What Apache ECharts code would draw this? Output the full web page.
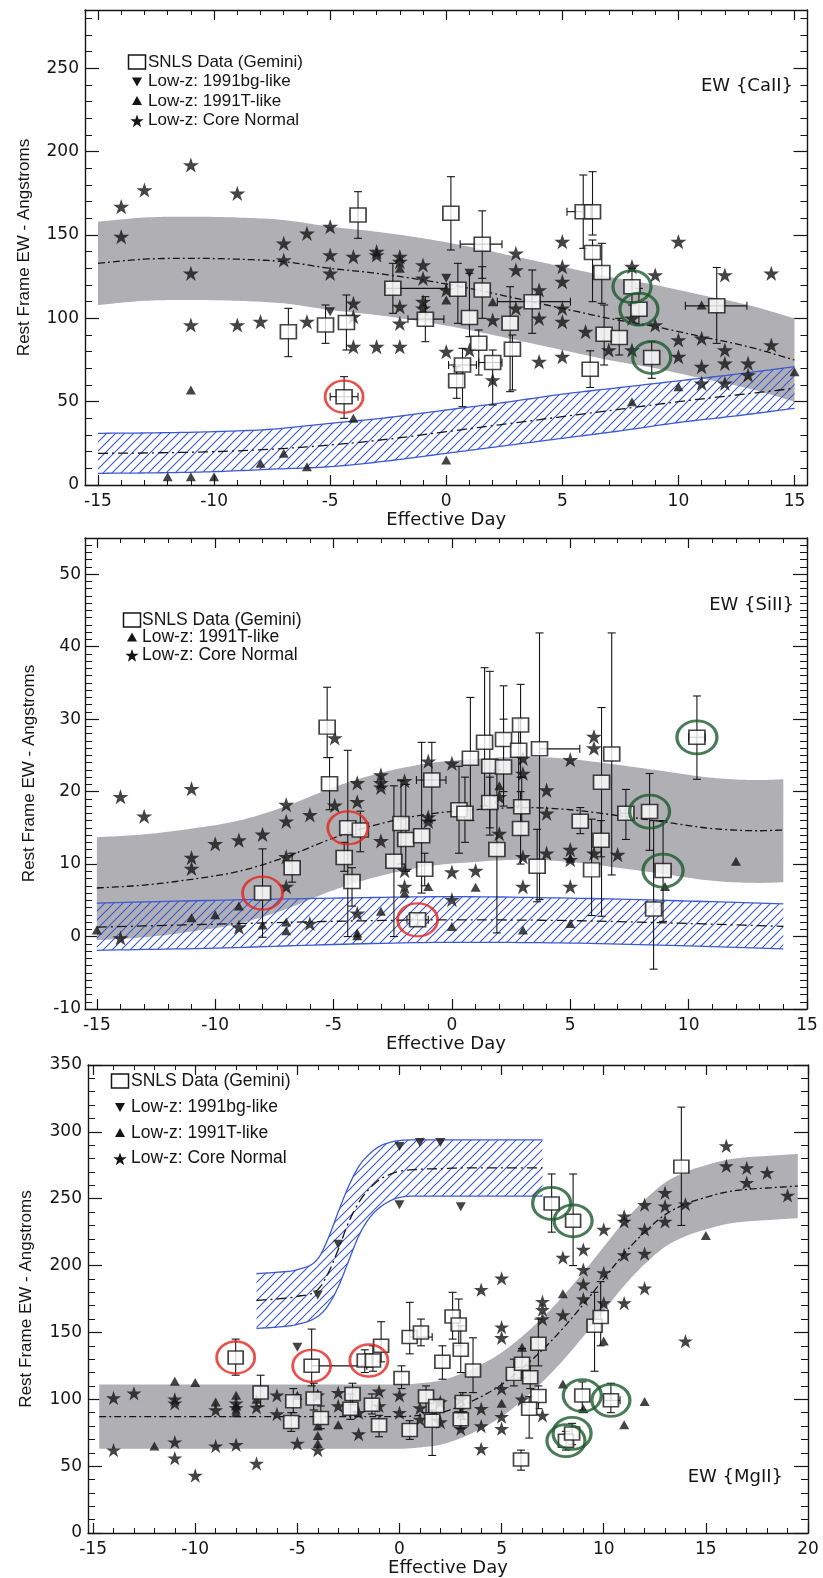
<!DOCTYPE html>
<html>
<head>
<meta charset="utf-8">
<title>Rest Frame EW vs Effective Day</title>
<script src="https://cdn.jsdelivr.net/npm/echarts@6/dist/echarts.min.js"></script>
<style>
html,body{margin:0;padding:0;background:#fff;}
#chart{width:823px;height:1578px;}
</style>
</head>
<body>
<div id="chart"></div>
<script>
// ================= Ca II panel =================
const caXTicks = [-15, -10, -5, 0, 5, 10, 15];
const caYTicks = [0, 50, 100, 150, 200, 250];
// normal-population model band (grey)
const caBandX   = [-15, -13, -11, -9, -7, -5, -3, -1, 1, 3, 5, 7, 9, 11, 13, 15];
const caBandMid = [133, 135.5, 136, 135.5, 134, 130, 127, 123, 118, 112, 106, 100, 95, 89, 83, 75];
const caBandHi  = [158, 160.5, 161, 160.5, 159, 155, 152, 148, 143, 137, 131, 125, 120, 114, 108, 100];
const caBandLo  = [108, 110.5, 111, 110.5, 109, 105, 102, 98, 93, 87, 81, 75, 70, 64, 58, 50];
// 1991T-like model band (hatched)
const caHatchX   = [-15, -12.5, -10, -7.5, -5, -2.5, 0, 2.5, 5, 7.5, 10, 12.5, 15];
const caHatchMid = [19, 19.3, 20, 21.5, 24, 27.5, 32, 36.5, 41, 45.5, 50, 54, 58];
const caHatchHi  = [31, 31.3, 32, 33.5, 37, 40.5, 45, 49.5, 54.5, 58.5, 62.5, 66.5, 71];
const caHatchLo  = [7, 7.3, 8, 9.5, 11, 14.5, 19, 23.5, 28, 32.5, 37.5, 41.5, 46];
const caStars = [[-14,167],[-14,149],[-13,177],[-11,192],[-11,127],[-11,96],[-9,175],[-9,96],[-8,98],[-7,145],[-7,135],[-6,151],[-6,98],[-5,155],[-5,138],[-5,127],[-4,137],[-4,109],[-4,101],[-4,83],[-3,140],[-3,138],[-3,83],[-2,137],[-2,134],[-2,107],[-2,97],[-2,83],[-1,132],[-1,124],[-1,110],[-1,106],[0,80],[0,117],[1,81],[2,99],[2,63],[3,139],[3,129],[3,106],[4,117],[4,100],[4,74],[5,146],[5,131],[5,122],[5,106],[5,98],[5,77],[6,92],[7,81],[8,131],[8,100],[8,81],[9,126],[9,96],[10,146],[10,87],[10,77],[11,88],[11,71],[11,61],[12,126],[12,81],[12,73],[12,61],[13,73],[13,66],[14,127],[14,84]];
const caTriUp = [[-12,5],[-11,5],[-10,5],[-11,57],[-8,13],[-7,19],[-6,11],[-4,40],[0,15],[8,50],[10,59],[15,68],[11,108],[0,111],[2,110],[-2,130]];
const caTriDown = [[-5,104],[0,124],[1,127]];
// [day, EW, EW low, EW high, day low, day high]
const caSquares = [
  [-6.8, 92, 77, 106, null, null], [-5.2, 96, 85, 108, null, null], [-4.3, 97.5, 81, 114, null, null],
  [-3.8, 162, 148, 176, null, null], [-4.4, 53, 40, 65, -5.0, -3.8], [-2.3, 118, 103, 133, -2.6, 0],
  [-0.9, 99.5, 86, 113, -1.65, -0.1], [0.2, 163, 141, 185, null, null], [0.5, 117.5, 97, 133, null, null],
  [1.0, 100.5, 89, 127, null, null], [0.45, 62.5, 52, 71, null, null], [0.7, 72, 47, 82, 0.1, 1.3],
  [1.55, 144.5, 124, 164.5, 0.6, 2.4], [1.55, 117, 100, 131, null, null], [1.4, 85, 66, 93, null, null],
  [2.0, 73.5, 48, 81, 1.4, 2.4], [2.75, 97, 56, 119, null, null], [2.85, 81.5, 57, 90, null, null],
  [3.7, 110, 91, 129, 2.2, 5.35], [5.9, 164, 142, 186, 5.2, null], [6.3, 164, 150, 188, null, null],
  [6.3, 139.5, 110, 147, null, null], [6.7, 127.5, 109, 145, null, null], [6.2, 69.5, 58.5, 80.5, null, null],
  [6.8, 90.5, 72, 108, null, null], [7.45, 88.5, 78, 100, null, null], [8.0, 119, 108, 130, null, null],
  [8.3, 105.5, 96, 118, null, null], [8.85, 76.5, 64, 86, null, null], [11.65, 107.5, 85, 130.5, 10.3, 12.95]
];
const caRed = [[-4.4, 53]];
const caGreen = [[8.0, 119], [8.3, 105.5], [8.85, 76.5]];

// ================= Si II panel =================
const siXTicks = [-15, -10, -5, 0, 5, 10, 15];
const siYTicks = [-10, 0, 10, 20, 30, 40, 50];
const siBandX   = [-15, -13, -11, -9, -7, -5, -3, -1, 1, 3, 5, 7, 9, 11, 13, 14];
const siBandMid = [6.7, 7.1, 7.9, 9.0, 11.0, 13.6, 15.6, 16.9, 17.5, 17.8, 17.5, 16.7, 15.8, 14.9, 14.6, 14.7];
const siBandHi  = [13.7, 14.1, 14.9, 16.0, 18.0, 20.6, 22.6, 23.9, 24.5, 24.8, 24.5, 23.7, 22.8, 21.9, 21.6, 21.7];
const siBandLo  = [-0.5, -0.1, 0.7, 1.8, 3.8, 6.4, 8.4, 9.7, 10.3, 10.6, 10.3, 9.5, 8.6, 7.7, 7.4, 7.5];
const siHatchX   = [-15, -10, -5, 0, 5, 10, 14];
const siHatchMid = [1.3, 1.7, 2.1, 2.3, 2.2, 1.8, 1.4];
const siHatchHi  = [4.6, 5.0, 5.3, 5.5, 5.3, 4.9, 4.5];
const siHatchLo  = [-1.9, -1.6, -1.1, -0.8, -0.9, -1.3, -1.7];
const siStars = [[-14,19.3],[-14,-0.2],[-13,16.6],[-11,20.4],[-11,10.9],[-11,9.4],[-10,12.8],[-9,13.3],[-9,1.3],[-8,14.1],[-7,18.2],[-7,15.9],[-7,11.0],[-7,6.9],[-6,16.8],[-6,1.8],[-4.95,27.4],[-4.95,18.1],[-4,21.2],[-4,18.6],[-4,3.2],[-3,22.3],[-3,21.2],[-3,20.6],[-3,13.2],[-2,21.5],[-2,9.1],[-2,6.9],[-1,24.2],[-1,16.5],[-1,15.9],[0,23.9],[0,8.9],[0,5.1],[1,9.1],[2,14.2],[2,19.3],[3,22.5],[3,24.6],[3,11.0],[3,6.9],[4,20.2],[4,17.0],[4,11.5],[5,24.4],[5,12.0],[5,10.6],[5,6.9],[6,27.6],[6,26.0],[6,11.5],[7,11.3]];
const siTriUp = [[-15,0.9],[-11,2.6],[-10,3.0],[-9,4.2],[-8,1.6],[-7,2.0],[-7,0.8],[-4,0.1],[-4,0.5],[-3,3.5],[-2,6.0],[-1,6.9],[0,1.4],[1,6.8],[2,20.8],[3,0.9],[5,1.8],[5,10.8],[9,6.9],[12,10.4]];
const siSquares = [
  [-8.0, 6.0, -0.1, 12.1, null, null], [-6.75, 9.5, 7.5, 11.5, null, null], [-5.27, 28.9, 24.7, 34.4, null, null],
  [-5.17, 21.1, 17.5, 24.7, null, null], [-4.4, 15.0, 0, 25.7, null, null], [-3.87, 14.7, 11.7, 17.3, null, null],
  [-4.55, 10.9, 9, 13, null, null], [-4.22, 7.6, 4.2, 9.5, null, null], [-2.45, 10.4, 0, 20.8, null, null],
  [-2.15, 15.6, 10, 21.5, null, null], [-1.95, 13.4, 9, 21, null, null], [-1.28, 13.9, 6, 26.8, null, null],
  [-1.15, 9.3, 7, 11.5, null, null], [-0.85, 21.6, 16, 26.8, -1.5, -0.25], [-1.45, 2.3, 1.5, 3.1, -1.9, -1.0],
  [0.3, 17.5, 11.5, 23.5, null, null], [0.55, 17.0, 13, 22, null, null], [0.78, 24.6, 16, 33, null, null],
  [1.38, 26.8, 18, 37.1, null, null], [1.6, 23.5, 15, 36.6, null, null], [1.6, 18.5, 14, 22, null, null],
  [2.18, 27.2, 20, 34.6, null, null], [2.18, 23.4, 18, 30, null, null], [1.9, 12.0, 0.5, 23, null, null],
  [2.9, 29.2, 22, 34.8, null, null], [2.82, 25.7, 18, 30, null, null], [2.95, 17.9, 14, 22, null, null],
  [2.9, 14.9, 10, 20, null, null], [3.7, 25.9, 5.1, 41.9, null, 5.4], [3.6, 9.7, 4.8, 14.8, null, null],
  [5.42, 15.9, 14.2, 17.8, null, null], [5.9, 9.2, 2.9, 16.2, null, null], [6.32, 21.3, 2.8, 31.6, null, null],
  [6.3, 13.3, 11, 16, null, null], [6.75, 25.2, 8.5, 41.9, null, null], [7.35, 17.0, 13.4, 20.3, 7.1, 7.6],
  [8.35, 17.25, 11.9, 22.5, null, null], [8.92, 9.1, 2.1, 16, null, null], [8.52, 3.8, -4.5, 16, null, null],
  [10.35, 27.5, 21.7, 33.2, 10.0, 10.7]
];
const siRed = [[-8.0, 6.0], [-4.4, 15.0], [-1.45, 2.3]];
const siGreen = [[8.35, 17.25], [8.92, 9.1], [10.35, 27.5]];

// ================= Mg II panel =================
const mgXTicks = [-15, -10, -5, 0, 5, 10, 15, 20];
const mgYTicks = [0, 50, 100, 150, 200, 250, 300, 350];
const mgBandX   = [-14.7, -12, -9, -6, -3, 0, 1, 2, 3, 4, 5, 6, 7, 8, 9, 10, 11, 12, 13, 14, 15, 16, 17, 18, 19, 19.5];
const mgBandMid = [87, 87, 87, 87, 87, 87, 88, 90, 95, 102, 111, 123, 137, 153, 171, 190, 209, 225, 238, 246, 251, 255, 257, 258, 259, 259.5];
const mgBandHi  = [111, 111, 111, 111, 111, 111, 112, 114, 119, 126, 135, 147, 161, 177, 195, 214, 233, 249, 262, 270, 275, 279, 281, 282, 283, 283.5];
const mgBandLo  = [63, 63, 63, 63, 63, 63, 64, 66, 71, 78, 87, 99, 113, 129, 147, 166, 185, 201, 214, 222, 227, 231, 233, 234, 235, 235.5];
const mgHatchX   = [-7, -6, -5, -4, -3.5, -3, -2.5, -2, -1.5, -1, -0.5, 0, 1, 2, 3, 4, 5, 6, 7];
const mgHatchMid = [174, 175, 177, 182, 194, 212, 232, 247, 257, 264, 268, 270.5, 272, 272.5, 273, 273, 273, 273, 273];
const mgHatchHi  = [194, 195, 197, 205, 220, 240, 259, 274, 283, 289, 292, 293.5, 294, 294, 294, 294, 294, 294, 294];
const mgHatchLo  = [153, 154, 156, 162, 170, 184, 203, 222, 235, 243, 248, 251, 252, 252, 252, 252, 252, 252, 252];
const mgStars = [[-14,101],[-14,62],[-13,104.5],[-11,100],[-11,97],[-11,68],[-11,56],[-10,43],[-9,92],[-9,65],[-8,93.5],[-8,97],[-8,66],[-7,94],[-7,52],[-6,103],[-6,89],[-5,67],[-4,62],[-4,103],[-3,105],[-3,95],[-2,74],[-2,90],[-1,106],[-1,95],[0,90],[0,103],[1,93.5],[1,85],[2,83],[2,98],[3,90],[3,78],[3,100],[4,182],[4,93],[4,80],[4,63],[5,190.5],[5,154],[5,146],[5,108],[5,87],[5,78],[6,100],[7,173],[7,167],[7,160],[7,88],[8,206],[8,163],[9,212],[9,197],[9,186],[9,175],[10,227],[10,194.5],[10,172],[11,237],[11,233],[11,208],[11,172],[12,245.5],[12,227],[12,209],[12,183],[13,254.5],[13,244.5],[13,233],[14,246],[14,143.5],[16,289.5],[16,274.5],[17,273],[17,262],[18,269.5],[19,252.5]];
const mgTriUp = [[-12,65],[-11,113.5],[-10,112.5],[-9,98],[-8,103],[-8,95],[-8,90],[-7,100],[-5,103],[-4,80],[-4,73],[-4,67],[-3,81],[5,97],[6,139],[8,179],[8,111.5],[9,93],[10,143.5],[11,81],[12,98.3],[15,222.5]];
const mgTriDown = [[-5,139],[-4,178],[-3,216],[0,289],[1,292],[2,292],[0,245.5],[3,244]];
const mgSquares = [
  [-8.02, 131.3, 118, 145, null, null], [-6.8, 105, 95, 118, null, null], [-5.2, 98.5, 90, 108, null, null],
  [-5.3, 83, 76, 90, null, null], [-4.3, 125, 110, 152.5, null, -1.6], [-4.2, 100.5, 92, 112, null, null],
  [-3.85, 86, 78, 95, null, null], [-2.4, 93, 85, 104, null, null], [-2.3, 104, 96, 112, null, null],
  [-1.7, 129, 120, 137, null, null], [-1.3, 129, 121, 140, null, null], [-1.35, 96, 89, 104, null, null],
  [-1.0, 80.5, 72, 88, null, null], [-0.9, 140, 128, 158, null, null], [0.1, 116, 108, 125, null, null],
  [0.5, 146.5, 134, 172.5, null, 1.6], [1.05, 150, 140, 160, null, null], [0.5, 77, 70, 84, null, null],
  [1.3, 102, 90, 110, null, null], [1.6, 84, 58, 92, null, null], [1.8, 95, 85, 100, null, null],
  [2.1, 128, 115, 140, null, null], [2.6, 162, 145, 180, null, null], [2.9, 156, 140, 175, null, null],
  [3.0, 137, 120, 155, null, null], [3.6, 121.5, 105, 146, null, null], [3.1, 98, 85, 105, null, null],
  [3.0, 85, 78, 93, null, null], [5.6, 119, 110, 130, null, null], [6.0, 126.5, 116, 138, null, null],
  [6.4, 116.5, 108, 125, null, null], [5.95, 55, 47, 62, null, null], [6.8, 141.5, 125, 160, null, null],
  [6.8, 102.5, 93, 110, null, null], [6.35, 93, 71, 102, null, null], [7.45, 246.5, 225, 268.5, null, null],
  [8.5, 233.5, 200, 268.5, null, null], [8.15, 69, 62, 76, null, null], [8.45, 74.5, 66, 82, null, null],
  [8.95, 102.8, 92, 113, null, null], [10.35, 99.2, 90, 112, 10.0, 10.8], [9.55, 155, 121, 180, null, null],
  [9.85, 161.5, 140, 188, null, null], [13.8, 274, 230, 318.5, null, null]
];
const mgRed = [[-8.02, 131.3], [-4.3, 125], [-1.5, 129]];
const mgGreen = [[7.45, 246.5], [8.5, 233.5], [8.15, 69], [8.45, 74.5], [8.95, 102.8], [10.35, 99.2]];

// ================= styling =================
const INK = '#151515';
const GREY = '#b0b0b4';
const BLUE = '#3b59d3';
const RED = '#e3231e';
const GREEN = '#1d5a2d';
const NUM_FONT = 'DejaVu Sans';
const TXT_FONT = 'Liberation Sans';
const STAR = 'path://M0,-10L2.245,-3.09L9.511,-3.09L3.633,1.18L5.878,8.09L0,3.82L-5.878,8.09L-3.633,1.18L-9.511,-3.09L-2.245,-3.09Z';

function hatchCanvas() {
  const c = document.createElement('canvas');
  c.width = 9; c.height = 9;
  const g = c.getContext('2d');
  g.strokeStyle = BLUE; g.lineWidth = 1.1;
  g.beginPath();
  g.moveTo(0, 9); g.lineTo(9, 0);
  g.moveTo(-1, 1); g.lineTo(1, -1);
  g.moveTo(8, 10); g.lineTo(10, 8);
  g.stroke();
  return c;
}
const HATCH = { image: hatchCanvas(), repeat: 'repeat' };

function minorTicks(min, max, step) {
  const out = [];
  for (let v = Math.ceil(min / step) * step; v <= max + 1e-9; v += step) out.push(+v.toFixed(6));
  return out;
}

// monotone cubic (Fritsch–Carlson) sampling, used only to draw smooth band edges
function smoothEdge(xs, ys, per) {
  const n = xs.length, d = [], m = new Array(n);
  for (let i = 0; i < n - 1; i++) d.push((ys[i + 1] - ys[i]) / (xs[i + 1] - xs[i]));
  m[0] = d[0]; m[n - 1] = d[n - 2];
  for (let i = 1; i < n - 1; i++) m[i] = d[i - 1] * d[i] <= 0 ? 0 : (d[i - 1] + d[i]) / 2;
  for (let i = 0; i < n - 1; i++) {
    if (d[i] === 0) { m[i] = 0; m[i + 1] = 0; continue; }
    const a = m[i] / d[i], b = m[i + 1] / d[i], s = a * a + b * b;
    if (s > 9) { const t = 3 / Math.sqrt(s); m[i] = t * a * d[i]; m[i + 1] = t * b * d[i]; }
  }
  const out = [];
  for (let i = 0; i < n - 1; i++) {
    const h = xs[i + 1] - xs[i];
    for (let k = 0; k < per; k++) {
      const t = k / per, t2 = t * t, t3 = t2 * t;
      const y = (2 * t3 - 3 * t2 + 1) * ys[i] + (t3 - 2 * t2 + t) * h * m[i] +
                (-2 * t3 + 3 * t2) * ys[i + 1] + (t3 - t2) * h * m[i + 1];
      out.push([xs[i] + t * h, y]);
    }
  }
  out.push([xs[n - 1], ys[n - 1]]);
  return out;
}

const layout = [
  { left: 85, top: 10, width: 722.5, height: 475, xMin: -15.56, xMax: 15.56, yMin: 0, yMax: 285,
    xTicks: caXTicks, yTicks: caYTicks, xStep: 1, yStep: 10, xGap: 25, yGap: 52, yLabMargin: 6,
    star: 16, tri: 10, sq: [16, 14], ring: [38, 32] },
  { left: 85, top: 538, width: 722, height: 471, xMin: -15.5, xMax: 15, yMin: -10, yMax: 55,
    xTicks: siXTicks, yTicks: siYTicks, xStep: 1, yStep: 1, xGap: 25, yGap: 47, yLabMargin: 4,
    star: 16, tri: 10, sq: [16, 14], ring: [40, 33] },
  { left: 88, top: 1065, width: 720, height: 470, xMin: -15.25, xMax: 20, yMin: 0, yMax: 350,
    xTicks: mgXTicks, yTicks: mgYTicks, xStep: 1, yStep: 10, xGap: 26, yGap: 53, yLabMargin: 6,
    star: 15, tri: 10, sq: [15, 13], ring: [38, 32] }
];

const grids = [], xAxes = [], yAxes = [];
layout.forEach((L, g) => {
  grids.push({ left: L.left, top: L.top, width: L.width, height: L.height, containLabel: false });
  const base = (min, max, pos) => ({
    type: 'value', gridIndex: g, min, max, position: pos,
    splitLine: { show: false }, axisPointer: { show: false },
    axisLine: { show: false, onZero: false }, axisLabel: { show: false }, axisTick: { show: false }
  });
  const xm = minorTicks(L.xMin, L.xMax, L.xStep);
  const ym = minorTicks(L.yMin, L.yMax, L.yStep);
  ['bottom', 'top'].forEach(pos => {
    const major = base(L.xMin, L.xMax, pos);
    major.axisLine = { show: true, onZero: false, lineStyle: { color: INK, width: 1.4 } };
    major.axisTick = { show: true, inside: true, length: 10, customValues: L.xTicks, lineStyle: { color: INK, width: 1.2 } };
    if (pos === 'bottom') {
      major.axisLabel = { show: true, customValues: L.xTicks, margin: 8, color: INK, fontFamily: NUM_FONT, fontSize: 17 };
      major.name = 'Effective Day';
      major.nameLocation = 'middle';
      major.nameGap = L.xGap;
      major.nameTextStyle = { color: INK, fontFamily: NUM_FONT, fontSize: 18 };
    }
    xAxes.push(major);
    const minor = base(L.xMin, L.xMax, pos);
    minor.axisTick = { show: true, inside: true, length: 5, customValues: xm, lineStyle: { color: INK, width: 1 } };
    xAxes.push(minor);
  });
  ['left', 'right'].forEach(pos => {
    const major = base(L.yMin, L.yMax, pos);
    major.axisLine = { show: true, onZero: false, lineStyle: { color: INK, width: 1.4 } };
    major.axisTick = { show: true, inside: true, length: 14, customValues: L.yTicks, lineStyle: { color: INK, width: 1.2 } };
    if (pos === 'left') {
      major.axisLabel = { show: true, customValues: L.yTicks, margin: L.yLabMargin, color: INK, fontFamily: NUM_FONT, fontSize: 17 };
      major.name = 'Rest Frame EW - Angstroms';
      major.nameLocation = 'middle';
      major.nameRotate = 90;
      major.nameGap = L.yGap;
      major.nameTextStyle = { color: INK, fontFamily: TXT_FONT, fontSize: 17 };
    }
    yAxes.push(major);
    const minor = base(L.yMin, L.yMax, pos);
    minor.axisTick = { show: true, inside: true, length: 7, customValues: ym, lineStyle: { color: INK, width: 1 } };
    yAxes.push(minor);
  });
});

// ---------- series builders ----------
const ax = g => ({ xAxisIndex: g * 4, yAxisIndex: g * 4 });

// model band: filled region between lo/hi edges, optional coloured edges, dashed centre line
function band(g, xs, mid, hi, lo, fill, edgeColor, midDash) {
  return Object.assign({
    type: 'custom', silent: true, clip: true, z: 1,
    data: [[xs[0], mid[0]]],
    encode: { x: 0, y: 1 },
    renderItem(params, api) {
      const top = smoothEdge(xs, hi, 12).map(p => api.coord(p));
      const bot = smoothEdge(xs, lo, 12).map(p => api.coord(p));
      const cen = smoothEdge(xs, mid, 12).map(p => api.coord(p));
      const kids = [{ type: 'polygon', shape: { points: top.concat(bot.slice().reverse()) }, style: { fill } }];
      if (edgeColor) {
        kids.push({ type: 'polyline', shape: { points: top }, style: { stroke: edgeColor, lineWidth: 1.3, fill: null } });
        kids.push({ type: 'polyline', shape: { points: bot }, style: { stroke: edgeColor, lineWidth: 1.3, fill: null } });
      }
      kids.push({ type: 'polyline', shape: { points: cen }, style: { stroke: INK, lineWidth: 1.3, fill: null, lineDash: midDash } });
      return { type: 'group', children: kids };
    }
  }, ax(g));
}
function points(g, data, symbol, size, extra) {
  return Object.assign({ type: 'scatter', data, symbol, symbolSize: size, symbolKeepAspect: true, silent: true, z: 3,
    itemStyle: { color: INK } }, extra || {}, ax(g));
}
function errorBars(g, rows) {
  const data = rows.map(r => [r[0], r[1], r[2] ?? r[1], r[3] ?? r[1], r[4] ?? r[0], r[5] ?? r[0]]);
  return Object.assign({
    type: 'custom', data, silent: true, z: 4, clip: true,
    encode: { x: 0, y: 1 },
    renderItem(params, api) {
      const x = api.value(0), y = api.value(1);
      const yl = api.value(2), yh = api.value(3), xl = api.value(4), xh = api.value(5);
      const st = { stroke: INK, lineWidth: 1.1 };
      const kids = [];
      const cap = 4;
      if (yl !== yh) {
        const a = api.coord([x, yl]), b = api.coord([x, yh]);
        kids.push({ type: 'line', shape: { x1: a[0], y1: a[1], x2: b[0], y2: b[1] }, style: st });
        if (yl !== y) kids.push({ type: 'line', shape: { x1: a[0] - cap, y1: a[1], x2: a[0] + cap, y2: a[1] }, style: st });
        if (yh !== y) kids.push({ type: 'line', shape: { x1: b[0] - cap, y1: b[1], x2: b[0] + cap, y2: b[1] }, style: st });
      }
      if (xl !== xh) {
        const a = api.coord([xl, y]), b = api.coord([xh, y]);
        kids.push({ type: 'line', shape: { x1: a[0], y1: a[1], x2: b[0], y2: b[1] }, style: st });
        if (xl !== x) kids.push({ type: 'line', shape: { x1: a[0], y1: a[1] - cap, x2: a[0], y2: a[1] + cap }, style: st });
        if (xh !== x) kids.push({ type: 'line', shape: { x1: b[0], y1: b[1] - cap, x2: b[0], y2: b[1] + cap }, style: st });
      }
      return { type: 'group', children: kids };
    }
  }, ax(g));
}
function squares(g, rows, size) {
  return points(g, rows.map(r => [r[0], r[1]]), 'rect', size,
    { z: 5, itemStyle: { color: '#ffffff', borderColor: INK, borderWidth: 1.6 } });
}
function rings(g, data, size, color, width) {
  return points(g, data, 'circle', size,
    { z: 6, itemStyle: { color: 'rgba(0,0,0,0)', borderColor: color, borderWidth: width } });
}

function panelSeries(g, d) {
  const L = layout[g];
  const s = [];
  s.push(band(g, d.bandX, d.bandMid, d.bandHi, d.bandLo, GREY, null, [7, 3, 2, 3]));
  s.push(band(g, d.hatchX, d.hatchMid, d.hatchHi, d.hatchLo, HATCH, BLUE, [10, 4, 2, 4]));
  s.push(points(g, d.stars, STAR, L.star));
  s.push(points(g, d.triUp, 'triangle', [L.tri, L.tri - 1]));
  if (d.triDown) s.push(points(g, d.triDown, 'triangle', [L.tri, L.tri - 1], { symbolRotate: 180 }));
  s.push(errorBars(g, d.squares));
  s.push(squares(g, d.squares, L.sq));
  s.push(rings(g, d.red, L.ring, RED, 2.6));
  s.push(rings(g, d.green, L.ring, GREEN, 3));
  return s;
}

const series = [].concat(
  panelSeries(0, { bandX: caBandX, bandMid: caBandMid, bandHi: caBandHi, bandLo: caBandLo,
    hatchX: caHatchX, hatchMid: caHatchMid, hatchHi: caHatchHi, hatchLo: caHatchLo,
    stars: caStars, triUp: caTriUp, triDown: caTriDown, squares: caSquares, red: caRed, green: caGreen }),
  panelSeries(1, { bandX: siBandX, bandMid: siBandMid, bandHi: siBandHi, bandLo: siBandLo,
    hatchX: siHatchX, hatchMid: siHatchMid, hatchHi: siHatchHi, hatchLo: siHatchLo,
    stars: siStars, triUp: siTriUp, triDown: null, squares: siSquares, red: siRed, green: siGreen }),
  panelSeries(2, { bandX: mgBandX, bandMid: mgBandMid, bandHi: mgBandHi, bandLo: mgBandLo,
    hatchX: mgHatchX, hatchMid: mgHatchMid, hatchHi: mgHatchHi, hatchLo: mgHatchLo,
    stars: mgStars, triUp: mgTriUp, triDown: mgTriDown, squares: mgSquares, red: mgRed, green: mgGreen })
);

// ---------- legends and panel captions ----------
function starPoints(cx, cy, r) {
  const pts = [];
  for (let k = 0; k < 10; k++) {
    const a = -Math.PI / 2 + k * Math.PI / 5;
    const rr = k % 2 ? r * 0.4 : r;
    pts.push([cx + rr * Math.cos(a), cy + rr * Math.sin(a)]);
  }
  return pts;
}
function marker(kind, cx, cy) {
  if (kind === 'square') return { type: 'rect', shape: { x: cx - 8.5, y: cy - 7, width: 17, height: 14 },
    style: { fill: '#fff', stroke: INK, lineWidth: 1.5 } };
  if (kind === 'up') return { type: 'polygon', shape: { points: [[cx, cy - 5], [cx + 5, cy + 4], [cx - 5, cy + 4]] }, style: { fill: INK } };
  if (kind === 'down') return { type: 'polygon', shape: { points: [[cx, cy + 5], [cx + 5, cy - 4], [cx - 5, cy - 4]] }, style: { fill: INK } };
  return { type: 'polygon', shape: { points: starPoints(cx, cy + 1, 7) }, style: { fill: INK } };
}
const LEGEND_TEXT = {
  square: 'SNLS Data (Gemini)',
  down: 'Low-z: 1991bg-like',
  up: 'Low-z: 1991T-like',
  star: 'Low-z: Core Normal'
};
function legendBlock(kinds, rowsY, markX, textX, fontSize) {
  const els = [];
  kinds.forEach((k, i) => {
    els.push(marker(k, markX, rowsY[i]));
    els.push({ type: 'text', x: textX, y: rowsY[i],
      style: { text: LEGEND_TEXT[k], fill: INK, fontFamily: TXT_FONT, fontSize, align: 'left', verticalAlign: 'middle' } });
  });
  return els;
}
function caption(text, right, y) {
  return { type: 'text', x: right, y,
    style: { text, fill: INK, fontFamily: NUM_FONT, fontSize: 18, align: 'right', verticalAlign: 'middle' } };
}
const graphic = [].concat(
  legendBlock(['square', 'down', 'up', 'star'], [62, 81.5, 101, 120.5], 137, 148, 17),
  legendBlock(['square', 'up', 'star'], [620, 637.5, 655], 132, 142, 17.5),
  legendBlock(['square', 'down', 'up', 'star'], [1081, 1107, 1133, 1158.5], 120, 131, 17.5),
  [caption('EW {CaII}', 793, 86), caption('EW {SiII}', 794, 605), caption('EW {MgII}', 783, 1477)]
);

const chart = echarts.init(document.getElementById('chart'), null, { renderer: 'canvas' });
chart.setOption({
  animation: false,
  backgroundColor: '#ffffff',
  textStyle: { fontFamily: TXT_FONT },
  grid: grids,
  xAxis: xAxes,
  yAxis: yAxes,
  series,
  graphic: { elements: graphic }
});
</script>
</body>
</html>
